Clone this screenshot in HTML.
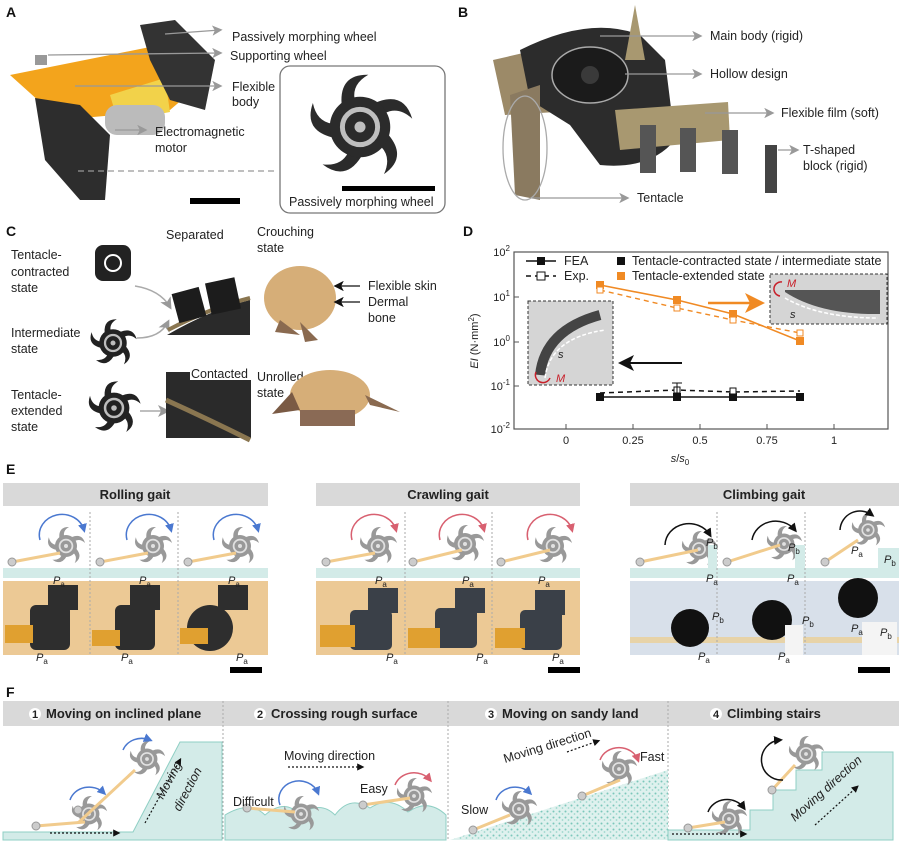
<!DOCTYPE html>
<html><head><meta charset="utf-8"><style>
html,body{margin:0;padding:0;background:#fff}
svg{display:block}
text{font-family:"Liberation Sans",Arial,sans-serif;fill:#222}
.l{font-size:12.5px}
.b{font-weight:bold;font-size:14px;fill:#111}
.h{font-weight:bold;font-size:13px;fill:#222}
.s{font-size:11px}
</style></head><body>
<svg width="900" height="843" viewBox="0 0 900 843" xmlns="http://www.w3.org/2000/svg">
<defs>
<symbol id="wh" viewBox="-1 -1 2 2">
 <g>
  <path id="bl" d="M0.3,-0.45 Q0.8,-0.65 0.95,-0.15 Q0.7,-0.38 0.45,-0.25Z"/>
  <use href="#bl" transform="rotate(72)"/><use href="#bl" transform="rotate(144)"/>
  <use href="#bl" transform="rotate(216)"/><use href="#bl" transform="rotate(288)"/>
  <circle r="0.55"/>
  <circle r="0.32" fill="none" stroke="#fff" stroke-width="0.09" opacity="0.7"/>
  <circle r="0.1" fill="#fff" opacity="0.7"/>
 </g>
</symbol>
<marker id="ag" markerWidth="8" markerHeight="8" refX="6" refY="4" orient="auto"><path d="M0,0 L8,4 L0,8 L2,4Z" fill="#999"/></marker>
<marker id="ak" markerWidth="8" markerHeight="8" refX="6" refY="4" orient="auto"><path d="M0,0 L8,4 L0,8 L2,4Z" fill="#111"/></marker>
<marker id="ao" markerWidth="8" markerHeight="8" refX="6" refY="4" orient="auto"><path d="M0,0 L8,4 L0,8 L2,4Z" fill="#f08a24"/></marker>
<marker id="ab" markerWidth="6" markerHeight="6" refX="4" refY="3" orient="auto"><path d="M0,0 L6,3 L0,6Z" fill="#4a78d0"/></marker>
<marker id="ar" markerWidth="6" markerHeight="6" refX="4" refY="3" orient="auto"><path d="M0,0 L6,3 L0,6Z" fill="#d86070"/></marker>
<marker id="ak2" markerWidth="6" markerHeight="6" refX="4" refY="3" orient="auto"><path d="M0,0 L6,3 L0,6Z" fill="#111"/></marker>
<pattern id="sand" width="6" height="6" patternUnits="userSpaceOnUse"><rect width="6" height="6" fill="#dff1ee"/><circle cx="1.5" cy="1.5" r="1" fill="#7cc7bb"/><circle cx="4.5" cy="4" r="0.9" fill="#9dd6cc"/></pattern>
</defs>

<!-- ===== A ===== -->
<text x="6" y="17" class="b">A</text>
<path d="M10,75 L160,45 L205,80 L170,110 L60,120Z" fill="#f3a41c"/>
<path d="M110,95 L165,78 L170,112 L118,122Z" fill="#f2d24a"/>
<rect x="105" y="105" width="60" height="30" rx="12" fill="#bbb"/>
<path d="M140,25 L175,20 L215,60 L205,110 L170,100 L150,60Z" fill="#333"/>
<path d="M35,98 L80,105 L110,135 L105,200 L80,200 L45,160Z" fill="#2d2d2d"/>
<rect x="35" y="55" width="12" height="10" fill="#999"/>
<g stroke="#999" stroke-width="1.3" fill="none">
 <line x1="165" y1="34" x2="220" y2="30" marker-end="url(#ag)"/>
 <line x1="48" y1="55" x2="220" y2="53" marker-end="url(#ag)"/>
 <line x1="75" y1="86" x2="220" y2="86" marker-end="url(#ag)"/>
 <line x1="115" y1="130" x2="145" y2="130" marker-end="url(#ag)"/>
 <line x1="78" y1="171" x2="278" y2="171" stroke-dasharray="6,4"/>
</g>
<text x="232" y="41" class="l">Passively morphing wheel</text>
<text x="230" y="60" class="l">Supporting wheel</text>
<text x="232" y="91" class="l">Flexible</text>
<text x="232" y="106" class="l">body</text>
<text x="155" y="136" class="l">Electromagnetic</text>
<text x="155" y="152" class="l">motor</text>
<rect x="190" y="198" width="50" height="6" fill="#000"/>
<rect x="280" y="66" width="165" height="147" rx="10" fill="#fff" stroke="#777" stroke-width="1.3"/>
<use href="#wh" x="305" y="72" width="110" height="110" fill="#2b2b2b"/>
<rect x="342" y="186" width="93" height="5" fill="#000"/>
<text x="289" y="206" class="l">Passively morphing wheel</text>

<!-- ===== B ===== -->
<text x="458" y="17" class="b">B</text>
<path d="M493,60 L580,40 L590,110 L505,115Z" fill="#9c8a68"/>
<path d="M520,50 Q590,15 640,35 L665,60 L675,140 Q650,170 600,165 L570,125 L530,100Z" fill="#2c2c2c"/>
<ellipse cx="590" cy="75" rx="38" ry="28" fill="#1b1b1b" stroke="#aaa" stroke-width="1.5"/>
<circle cx="590" cy="75" r="9" fill="#3a3a3a"/>
<path d="M635,5 L645,60 L625,60Z" fill="#a89870"/>
<path d="M615,110 L728,102 L730,140 L620,150Z" fill="#a89870"/>
<rect x="640" y="125" width="16" height="48" fill="#555"/><rect x="680" y="128" width="16" height="44" fill="#555"/>
<rect x="722" y="130" width="16" height="44" fill="#555"/><rect x="765" y="145" width="12" height="48" fill="#444"/>
<path d="M510,95 L540,85 L540,200 L515,195Z" fill="#8a7a60"/>
<ellipse cx="525" cy="148" rx="22" ry="52" fill="none" stroke="#aaa" stroke-width="1.3"/>
<g stroke="#999" stroke-width="1.3" fill="none">
 <line x1="600" y1="36" x2="700" y2="36" marker-end="url(#ag)"/>
 <line x1="625" y1="74" x2="700" y2="74" marker-end="url(#ag)"/>
 <line x1="705" y1="113" x2="772" y2="113" marker-end="url(#ag)"/>
 <line x1="778" y1="150" x2="797" y2="150" marker-end="url(#ag)"/>
 <line x1="532" y1="198" x2="627" y2="198" marker-end="url(#ag)"/>
</g>
<text x="710" y="40" class="l">Main body (rigid)</text>
<text x="710" y="78" class="l">Hollow design</text>
<text x="781" y="117" class="l">Flexible film (soft)</text>
<text x="803" y="154" class="l">T-shaped</text>
<text x="803" y="170" class="l">block (rigid)</text>
<text x="637" y="202" class="l">Tentacle</text>

<!-- ===== C ===== -->
<text x="6" y="236" class="b">C</text>
<text x="11" y="259" class="l">Tentacle-</text><text x="11" y="276" class="l">contracted</text><text x="11" y="292" class="l">state</text>
<text x="11" y="337" class="l">Intermediate</text><text x="11" y="353" class="l">state</text>
<text x="11" y="399" class="l">Tentacle-</text><text x="11" y="415" class="l">extended</text><text x="11" y="431" class="l">state</text>
<rect x="95" y="245" width="36" height="36" rx="8" fill="#222"/><circle cx="113" cy="263" r="8" fill="none" stroke="#fff" stroke-width="2"/>
<use href="#wh" x="88" y="318" width="50" height="50" fill="#222"/>
<use href="#wh" x="86" y="380" width="56" height="56" fill="#222"/>
<g stroke="#aaa" stroke-width="1.5" fill="none">
 <path d="M135,286 Q160,290 170,307" marker-end="url(#ag)"/>
 <path d="M137,338 Q160,338 168,322" marker-end="url(#ag)"/>
 <line x1="140" y1="411" x2="167" y2="411" marker-end="url(#ag)"/>
</g>
<path d="M167,335 Q210,310 250,300 L250,335Z" fill="#2a2a2a"/>
<path d="M168,330 Q210,308 250,298" stroke="#8a7650" stroke-width="4" fill="none"/>
<rect x="175" y="290" width="28" height="30" fill="#1c1c1c" transform="rotate(-15 189 305)"/>
<rect x="208" y="280" width="30" height="32" fill="#1c1c1c" transform="rotate(-12 223 296)"/>
<path d="M166,372 L190,372 L190,380 L251,380 L251,438 L166,438Z" fill="#2a2a2a"/>
<path d="M166,400 Q210,420 250,440" stroke="#8a7650" stroke-width="5" fill="none"/>
<text x="166" y="239" class="l">Separated</text>
<text x="191" y="378" class="l">Contacted</text>
<text x="257" y="236" class="l">Crouching</text><text x="257" y="252" class="l">state</text>
<ellipse cx="300" cy="298" rx="36" ry="32" fill="#d6ae78"/>
<path d="M280,320 L300,335 L275,332Z" fill="#8a6a50"/>
<path d="M300,322 L318,340 L305,342Z" fill="#8a6a50"/>
<text x="257" y="381" class="l">Unrolled</text><text x="257" y="397" class="l">state</text>
<ellipse cx="330" cy="395" rx="40" ry="25" fill="#d6ae78"/>
<path d="M292,392 L272,414 L300,410Z" fill="#7a5a44"/>
<path d="M365,395 L400,412 L370,405Z" fill="#8a6a50"/>
<rect x="300" y="410" width="55" height="16" fill="#8a6a55"/>
<g stroke="#111" stroke-width="1.3"><line x1="360" y1="286" x2="336" y2="286" marker-end="url(#ak)"/><line x1="360" y1="302" x2="336" y2="302" marker-end="url(#ak)"/></g>
<text x="368" y="290" class="l">Flexible skin</text>
<text x="368" y="306" class="l">Dermal</text><text x="368" y="322" class="l">bone</text>

<!-- ===== D ===== -->
<text x="463" y="236" class="b">D</text>
<rect x="514" y="252" width="374" height="177" fill="none" stroke="#555" stroke-width="1.2"/>
<g stroke="#555" stroke-width="1">
 <line x1="514" y1="297" x2="519" y2="297"/><line x1="514" y1="342" x2="519" y2="342"/><line x1="514" y1="386" x2="519" y2="386"/>
 <line x1="566" y1="429" x2="566" y2="424"/><line x1="633" y1="429" x2="633" y2="424"/><line x1="700" y1="429" x2="700" y2="424"/><line x1="767" y1="429" x2="767" y2="424"/><line x1="834" y1="429" x2="834" y2="424"/>
</g>
<g class="s" text-anchor="end">
<text x="510" y="256" class="s">10<tspan dy="-5" font-size="8">2</tspan></text>
<text x="510" y="301" class="s">10<tspan dy="-5" font-size="8">1</tspan></text>
<text x="510" y="346" class="s">10<tspan dy="-5" font-size="8">0</tspan></text>
<text x="510" y="390" class="s">10<tspan dy="-5" font-size="8">-1</tspan></text>
<text x="510" y="433" class="s">10<tspan dy="-5" font-size="8">-2</tspan></text>
</g>
<g text-anchor="middle">
<text x="566" y="444" class="s">0</text><text x="633" y="444" class="s">0.25</text><text x="700" y="444" class="s">0.5</text><text x="767" y="444" class="s">0.75</text><text x="834" y="444" class="s">1</text>
<text x="680" y="462" class="s"><tspan font-style="italic">s</tspan>/<tspan font-style="italic">s</tspan><tspan font-size="8" dy="3">0</tspan></text>
</g>
<text transform="translate(478,341) rotate(-90)" text-anchor="middle" class="s"><tspan font-style="italic">EI</tspan> (N·mm<tspan font-size="8" dy="-4">2</tspan><tspan dy="4">)</tspan></text>
<line x1="526" y1="261" x2="556" y2="261" stroke="#111" stroke-width="1.5"/><rect x="537" y="257" width="8" height="8" fill="#111"/>
<text x="564" y="265" class="l">FEA</text>
<line x1="526" y1="276" x2="556" y2="276" stroke="#111" stroke-width="1.5" stroke-dasharray="5,4"/><rect x="537" y="272" width="8" height="8" fill="#fff" stroke="#111"/>
<text x="564" y="280" class="l">Exp.</text>
<rect x="617" y="257" width="8" height="8" fill="#111"/><text x="632" y="265" class="l">Tentacle-contracted state / intermediate state</text>
<rect x="617" y="272" width="8" height="8" fill="#f08a24"/><text x="632" y="280" class="l">Tentacle-extended state</text>
<rect x="528" y="301" width="85" height="84" fill="#d5d5d5" stroke="#333" stroke-dasharray="3,2"/>
<path d="M540,375 Q545,330 600,315" stroke="#444" stroke-width="10" fill="none"/>
<path d="M545,378 Q550,338 605,330" stroke="#fff" stroke-width="1.5" stroke-dasharray="4,2" fill="none"/>
<text x="558" y="358" class="s" font-style="italic">s</text>
<text x="556" y="382" class="s" font-style="italic" style="fill:#c8202a">M</text>
<path d="M536,372 A7,7 0 1 0 550,378" stroke="#c8202a" stroke-width="1.5" fill="none"/>
<rect x="770" y="274" width="117" height="50" fill="#d5d5d5" stroke="#333" stroke-dasharray="3,2"/>
<path d="M785,292 Q820,315 880,314 L880,290 L785,290Z" fill="#555"/>
<path d="M785,298 Q820,318 878,318" stroke="#fff" stroke-width="1.5" stroke-dasharray="4,2" fill="none"/>
<text x="790" y="318" class="s" font-style="italic">s</text>
<text x="787" y="287" class="s" font-style="italic" style="fill:#c8202a">M</text>
<path d="M782,282 A7,7 0 0 0 780,296" stroke="#c8202a" stroke-width="1.5" fill="none"/>
<line x1="708" y1="303" x2="760" y2="303" stroke="#f08a24" stroke-width="2.5" marker-end="url(#ao)"/>
<line x1="682" y1="363" x2="622" y2="363" stroke="#111" stroke-width="2" marker-end="url(#ak)"/>
<polyline points="600,285 677,300 733,314 800,341" fill="none" stroke="#f08a24" stroke-width="1.6"/>
<polyline points="600,290 677,308 733,320 800,333" fill="none" stroke="#f08a24" stroke-width="1.4" stroke-dasharray="5,4"/>
<g fill="#f08a24"><rect x="596" y="281" width="8" height="8"/><rect x="673" y="296" width="8" height="8"/><rect x="729" y="310" width="8" height="8"/><rect x="796" y="337" width="8" height="8"/></g>
<g fill="#fff" stroke="#f08a24"><rect x="597" y="287" width="6" height="6"/><rect x="674" y="305" width="6" height="6"/><rect x="730" y="317" width="6" height="6"/><rect x="797" y="330" width="6" height="6"/></g>
<line x1="600" y1="397" x2="800" y2="397" stroke="#111" stroke-width="1.6"/>
<polyline points="600,393 677,390 733,392 800,391" fill="none" stroke="#111" stroke-width="1.5" stroke-dasharray="5,4"/>
<g fill="#111"><rect x="596" y="393" width="8" height="8"/><rect x="673" y="393" width="8" height="8"/><rect x="729" y="393" width="8" height="8"/><rect x="796" y="393" width="8" height="8"/></g>
<g fill="#fff" stroke="#111"><rect x="674" y="387" width="6" height="6"/><rect x="730" y="388" width="6" height="6"/></g>
<line x1="677" y1="383" x2="677" y2="398" stroke="#111"/><line x1="672" y1="383" x2="682" y2="383" stroke="#111"/>

<!-- ===== E ===== -->
<text x="6" y="474" class="b">E</text>
<rect x="3" y="483" width="265" height="23" fill="#d9d9d9"/><text x="135" y="499" class="h" text-anchor="middle">Rolling gait</text>
<rect x="316" y="483" width="264" height="23" fill="#d9d9d9"/><text x="448" y="499" class="h" text-anchor="middle">Crawling gait</text>
<rect x="630" y="483" width="269" height="23" fill="#d9d9d9"/><text x="764" y="499" class="h" text-anchor="middle">Climbing gait</text>
<rect x="3" y="568" width="265" height="10" fill="#d3ebe8"/><rect x="316" y="568" width="264" height="10" fill="#d3ebe8"/><rect x="630" y="568" width="269" height="10" fill="#d3ebe8"/>
<rect x="3" y="581" width="265" height="74" fill="#ecc995"/><rect x="316" y="581" width="264" height="74" fill="#ecc995"/>
<rect x="630" y="581" width="269" height="74" fill="#d8e0ea"/><rect x="630" y="637" width="269" height="6" fill="#e7d3a8"/>
<g stroke="#aaa" stroke-dasharray="2,2"><line x1="90" y1="512" x2="90" y2="655"/><line x1="178" y1="512" x2="178" y2="655"/><line x1="405" y1="512" x2="405" y2="655"/><line x1="492" y1="512" x2="492" y2="655"/><line x1="717" y1="512" x2="717" y2="655"/><line x1="805" y1="512" x2="805" y2="655"/></g>
<g fill="#999">
 <use href="#wh" x="46" y="526" width="40" height="40"/><use href="#wh" x="133" y="526" width="40" height="40"/><use href="#wh" x="220" y="526" width="40" height="40"/>
 <use href="#wh" x="358" y="526" width="40" height="40"/><use href="#wh" x="445" y="524" width="40" height="40"/><use href="#wh" x="533" y="526" width="40" height="40"/>
 <use href="#wh" x="680" y="530" width="38" height="38"/><use href="#wh" x="765" y="525" width="38" height="38"/><use href="#wh" x="850" y="512" width="36" height="36"/>
</g>
<g stroke="#f1cb8d" stroke-width="3">
 <line x1="12" y1="562" x2="60" y2="553"/><line x1="100" y1="562" x2="148" y2="553"/><line x1="188" y1="562" x2="236" y2="553"/>
 <line x1="326" y1="562" x2="375" y2="553"/><line x1="413" y1="562" x2="462" y2="550"/><line x1="501" y1="562" x2="550" y2="550"/>
 <line x1="640" y1="562" x2="698" y2="550"/><line x1="727" y1="562" x2="780" y2="545"/><line x1="825" y1="562" x2="858" y2="540"/>
</g>
<g fill="#ccc" stroke="#999"><circle cx="12" cy="562" r="4"/><circle cx="100" cy="562" r="4"/><circle cx="188" cy="562" r="4"/><circle cx="326" cy="562" r="4"/><circle cx="413" cy="562" r="4"/><circle cx="501" cy="562" r="4"/><circle cx="640" cy="562" r="4"/><circle cx="727" cy="562" r="4"/><circle cx="825" cy="562" r="4"/></g>
<g fill="none" stroke-width="1.5">
 <path d="M40,540 A22,20 0 0 1 84,530" stroke="#4a78d0" marker-end="url(#ab)"/><path d="M127,540 A22,20 0 0 1 171,530" stroke="#4a78d0" marker-end="url(#ab)"/><path d="M214,540 A22,20 0 0 1 258,530" stroke="#4a78d0" marker-end="url(#ab)"/>
 <path d="M352,540 A22,20 0 0 1 396,530" stroke="#d86070" marker-end="url(#ar)"/><path d="M440,540 A22,20 0 0 1 484,530" stroke="#d86070" marker-end="url(#ar)"/><path d="M528,540 A22,20 0 0 1 572,530" stroke="#d86070" marker-end="url(#ar)"/>
 <path d="M665,545 A24,22 0 0 1 710,535" stroke="#111" marker-end="url(#ak2)"/><path d="M752,540 A24,22 0 0 1 795,530" stroke="#111" marker-end="url(#ak2)"/><path d="M840,530 A20,20 0 0 1 872,515" stroke="#111" marker-end="url(#ak2)"/>
</g>
<rect x="708" y="545" width="9" height="23" fill="#d3ebe8"/><rect x="795" y="545" width="10" height="23" fill="#d3ebe8"/><rect x="878" y="548" width="21" height="20" fill="#d3ebe8"/>
<g fill="#2e2e2e">
 <rect x="30" y="605" width="40" height="45" rx="6"/><rect x="48" y="585" width="30" height="25"/>
 <rect x="115" y="605" width="40" height="45" rx="6"/><rect x="130" y="585" width="30" height="25"/>
 <circle cx="210" cy="628" r="23"/><rect x="218" y="585" width="30" height="25"/>
 <rect x="350" y="610" width="42" height="40" rx="5" fill="#3a4048"/><rect x="368" y="588" width="30" height="25" fill="#3a4048"/>
 <rect x="435" y="608" width="42" height="40" rx="5" fill="#3a4048"/><rect x="455" y="588" width="30" height="25" fill="#3a4048"/>
 <rect x="520" y="610" width="42" height="40" rx="5" fill="#3a4048"/><rect x="535" y="590" width="30" height="25" fill="#3a4048"/>
 <circle cx="690" cy="628" r="19" fill="#111"/><circle cx="772" cy="620" r="20" fill="#111"/><circle cx="858" cy="598" r="20" fill="#111"/>
</g>
<g fill="#e0a030"><rect x="5" y="625" width="28" height="18"/><rect x="92" y="630" width="28" height="16"/><rect x="180" y="628" width="28" height="16"/>
<rect x="320" y="625" width="35" height="22"/><rect x="408" y="628" width="32" height="20"/><rect x="495" y="628" width="30" height="20"/></g>
<rect x="785" y="625" width="18" height="30" fill="#f4f4f4"/><rect x="862" y="622" width="35" height="33" fill="#f4f4f4"/>
<g class="s" font-style="italic">
 <text x="53" y="584">P<tspan font-size="8" font-style="normal" dy="3">a</tspan></text><text x="139" y="584">P<tspan font-size="8" font-style="normal" dy="3">a</tspan></text><text x="228" y="584">P<tspan font-size="8" font-style="normal" dy="3">a</tspan></text>
 <text x="36" y="661">P<tspan font-size="8" font-style="normal" dy="3">a</tspan></text><text x="121" y="661">P<tspan font-size="8" font-style="normal" dy="3">a</tspan></text><text x="236" y="661">P<tspan font-size="8" font-style="normal" dy="3">a</tspan></text>
 <text x="375" y="584">P<tspan font-size="8" font-style="normal" dy="3">a</tspan></text><text x="462" y="584">P<tspan font-size="8" font-style="normal" dy="3">a</tspan></text><text x="538" y="584">P<tspan font-size="8" font-style="normal" dy="3">a</tspan></text>
 <text x="386" y="661">P<tspan font-size="8" font-style="normal" dy="3">a</tspan></text><text x="476" y="661">P<tspan font-size="8" font-style="normal" dy="3">a</tspan></text><text x="552" y="661">P<tspan font-size="8" font-style="normal" dy="3">a</tspan></text>
 <text x="706" y="546">P<tspan font-size="8" font-style="normal" dy="3">b</tspan></text><text x="706" y="582">P<tspan font-size="8" font-style="normal" dy="3">a</tspan></text>
 <text x="788" y="551">P<tspan font-size="8" font-style="normal" dy="3">b</tspan></text><text x="787" y="582">P<tspan font-size="8" font-style="normal" dy="3">a</tspan></text>
 <text x="851" y="554">P<tspan font-size="8" font-style="normal" dy="3">a</tspan></text><text x="884" y="563">P<tspan font-size="8" font-style="normal" dy="3">b</tspan></text>
 <text x="712" y="620">P<tspan font-size="8" font-style="normal" dy="3">b</tspan></text><text x="698" y="660">P<tspan font-size="8" font-style="normal" dy="3">a</tspan></text>
 <text x="802" y="624">P<tspan font-size="8" font-style="normal" dy="3">b</tspan></text><text x="778" y="660">P<tspan font-size="8" font-style="normal" dy="3">a</tspan></text>
 <text x="851" y="632">P<tspan font-size="8" font-style="normal" dy="3">a</tspan></text><text x="880" y="636">P<tspan font-size="8" font-style="normal" dy="3">b</tspan></text>
</g>
<rect x="230" y="667" width="32" height="6" fill="#000"/><rect x="548" y="667" width="32" height="6" fill="#000"/><rect x="858" y="667" width="32" height="6" fill="#000"/>

<!-- ===== F ===== -->
<text x="6" y="697" class="b">F</text>
<rect x="3" y="701" width="896" height="25" fill="#d9d9d9"/>
<g stroke="#aaa" stroke-dasharray="2,2"><line x1="223" y1="701" x2="223" y2="840"/><line x1="448" y1="701" x2="448" y2="840"/><line x1="668" y1="701" x2="668" y2="840"/></g>
<g class="h">
 <circle cx="35" cy="714" r="6" fill="#fff"/><text x="32" y="718" font-size="11">1</text><text x="46" y="718">Moving on inclined plane</text>
 <circle cx="260" cy="714" r="6" fill="#fff"/><text x="257" y="718" font-size="11">2</text><text x="271" y="718">Crossing rough surface</text>
 <circle cx="491" cy="714" r="6" fill="#fff"/><text x="488" y="718" font-size="11">3</text><text x="502" y="718">Moving on sandy land</text>
 <circle cx="716" cy="714" r="6" fill="#fff"/><text x="713" y="718" font-size="11">4</text><text x="727" y="718">Climbing stairs</text>
</g>
<path d="M3,832 L133,832 L180,742 L222,742 L222,840 L3,840Z" fill="#d3ebe8" stroke="#8fcfc4"/>
<path d="M225,840 L225,815 Q250,800 265,815 Q285,798 300,815 Q320,800 335,815 Q350,795 370,808 Q390,795 408,812 Q428,798 446,815 L446,840Z" fill="#d3ebe8" stroke="#8fcfc4"/>
<path d="M450,840 L668,770 L668,840Z" fill="url(#sand)"/>
<path d="M668,830 L750,830 L750,810 L773,810 L773,790 L796,790 L796,770 L822,770 L822,752 L893,752 L893,840 L668,840Z" fill="#d3ebe8" stroke="#8fcfc4"/>
<g fill="#999">
 <use href="#wh" x="70" y="795" width="38" height="38"/><use href="#wh" x="128" y="740" width="38" height="38"/>
 <use href="#wh" x="282" y="795" width="38" height="38"/><use href="#wh" x="395" y="777" width="38" height="38"/>
 <use href="#wh" x="500" y="790" width="38" height="38"/><use href="#wh" x="600" y="750" width="38" height="38"/>
 <use href="#wh" x="710" y="800" width="38" height="38"/><use href="#wh" x="787" y="735" width="38" height="38"/>
</g>
<g stroke="#f1cb8d" stroke-width="3" fill="none">
 <line x1="36" y1="826" x2="85" y2="822"/><line x1="78" y1="823" x2="135" y2="770"/>
 <line x1="247" y1="808" x2="295" y2="812"/><line x1="363" y1="805" x2="410" y2="798"/>
 <line x1="473" y1="830" x2="510" y2="815"/><line x1="582" y1="796" x2="620" y2="780"/>
 <line x1="688" y1="828" x2="725" y2="822"/><line x1="772" y1="790" x2="795" y2="765"/>
</g>
<g fill="#ccc" stroke="#999"><circle cx="36" cy="826" r="4"/><circle cx="78" cy="810" r="4"/><circle cx="247" cy="808" r="4"/><circle cx="363" cy="805" r="4"/><circle cx="473" cy="830" r="4"/><circle cx="582" cy="796" r="4"/><circle cx="688" cy="828" r="4"/><circle cx="772" cy="790" r="4"/></g>
<g fill="none" stroke-width="1.5">
 <path d="M70,800 A20,18 0 0 1 104,793" stroke="#4a78d0" marker-end="url(#ab)"/>
 <path d="M123,750 A20,18 0 0 1 150,740" stroke="#4a78d0" marker-end="url(#ab)"/>
 <path d="M280,805 A20,18 0 0 1 318,793" stroke="#4a78d0" marker-end="url(#ab)"/>
 <path d="M395,785 A20,18 0 0 1 430,780" stroke="#d86070" marker-end="url(#ar)"/>
 <path d="M496,800 A20,18 0 0 1 530,793" stroke="#4a78d0" marker-end="url(#ab)"/>
 <path d="M600,760 A20,18 0 0 1 638,760" stroke="#d86070" marker-end="url(#ar)"/>
 <path d="M708,812 A20,18 0 0 1 744,808" stroke="#111" marker-end="url(#ak2)"/>
 <path d="M783,780 A20,20 0 0 1 780,740" stroke="#111" marker-end="url(#ak2)"/>
</g>
<g stroke="#111" stroke-width="1.2" stroke-dasharray="2,2" fill="none">
 <line x1="50" y1="833" x2="118" y2="833" marker-end="url(#ak2)"/>
 <line x1="145" y1="823" x2="180" y2="760" marker-end="url(#ak2)"/>
 <line x1="288" y1="767" x2="362" y2="767" marker-end="url(#ak2)"/>
 <line x1="567" y1="752" x2="598" y2="741" marker-end="url(#ak2)"/>
 <line x1="672" y1="834" x2="745" y2="834" marker-end="url(#ak2)"/>
 <line x1="815" y1="825" x2="857" y2="787" marker-end="url(#ak2)"/>
</g>
<text transform="translate(163,800) rotate(-62)" class="l" font-style="italic">Moving</text>
<text transform="translate(180,812) rotate(-62)" class="l" font-style="italic">direction</text>
<text x="284" y="760" class="l">Moving direction</text>
<text x="233" y="806" class="l">Difficult</text>
<text x="360" y="793" class="l">Easy</text>
<text transform="translate(505,763) rotate(-17)" class="l">Moving direction</text>
<text x="461" y="814" class="l">Slow</text>
<text x="640" y="761" class="l">Fast</text>
<text transform="translate(795,822) rotate(-42)" class="l" font-style="italic">Moving direction</text>
</svg>
</body></html>
